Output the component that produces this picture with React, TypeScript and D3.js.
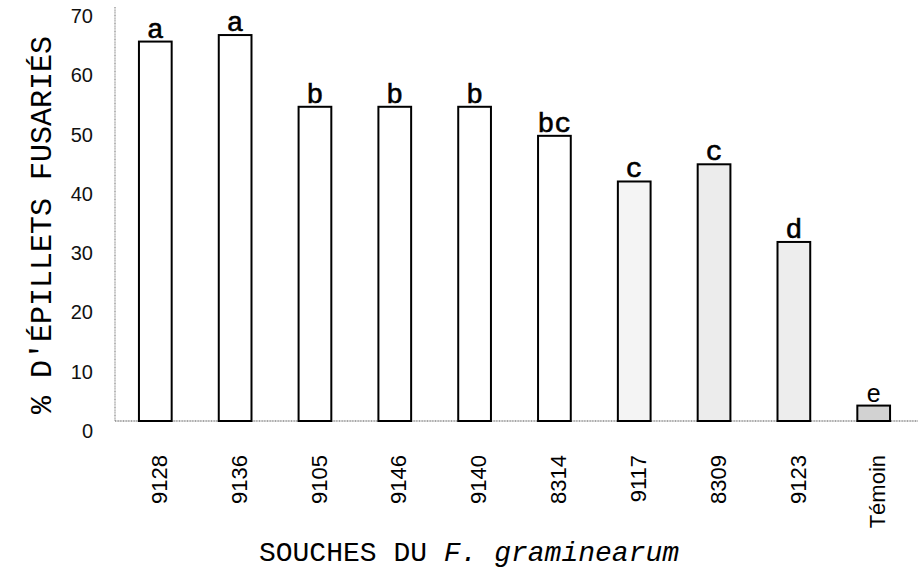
import React from "react";
import * as d3 from "d3";

const souches = ["9128", "9136", "9105", "9146", "9140", "8314", "9117", "8309", "9123", "Témoin"];
const valeurs = [64, 65.1, 53, 53, 53, 48.1, 40.4, 43.3, 30.2, 2.6];
const lettres = ["a", "a", "b", "b", "b", "bc", "c", "c", "d", "e"];
const remplissage = ["#fff", "#fff", "#fff", "#fff", "#fff", "#fff", "#f4f4f4", "#ececec", "#ededed", "#d2d2d2"];
const yTicks = [0, 10, 20, 30, 40, 50, 60, 70];

const W = 918;
const H = 568;
const mono = "'Liberation Mono', 'Courier New', monospace";
const sans = "'Liberation Sans', Arial, sans-serif";

export default function App() {
  const x = d3.scaleBand<string>().domain(souches).range([115, 914]).paddingInner(0.59).paddingOuter(0.3);
  const y = d3.scaleLinear().domain([0, 70]).range([421, 6]);

  return (
    <svg width={W} height={H} style={{ position: "absolute", left: 0, top: 0, background: "#fff" }}>
      {/* axes */}
      <line x1={115} x2={115} y1={7} y2={y(0)} stroke="#888" strokeWidth={1.2} strokeDasharray="1 0.6" />
      <line x1={115} x2={918} y1={y(0)} y2={y(0)} stroke="#888" strokeWidth={1.5} strokeDasharray="1 0.6" />

      {yTicks.map((t) => (
        <text key={t} x={93} y={y(t) + 10} dy="0.35em" textAnchor="end" fontFamily={sans} fontSize={20} fill="#111">
          {t}
        </text>
      ))}

      {souches.map((s, i) => {
        const bx = x(s)!;
        const bw = x.bandwidth();
        const top = y(valeurs[i]);
        const cx = bx + bw / 2;
        const isLast = s === "Témoin";
        return (
          <g key={s}>
            <rect x={bx} y={top} width={bw} height={y(0) - top} fill={remplissage[i]} stroke="#000" strokeWidth={2} />
            <text
              x={cx}
              y={top - 4}
              textAnchor="middle"
              fontFamily={isLast ? sans : mono}
              fontSize={isLast ? 25 : 28}
              stroke="#000"
              strokeWidth={isLast ? 0 : 0.6}
              fill="#000"
            >
              {lettres[i]}
            </text>
            <text
              transform={`translate(${cx + 4},455) rotate(-90)`}
              dy="0.35em"
              textAnchor="end"
              fontFamily={sans}
              fontSize={22}
              fill="#000"
            >
              {s}
            </text>
          </g>
        );
      })}

      <text
        transform="translate(40,225) rotate(-90)"
        dy="0.35em"
        textAnchor="middle"
        fontFamily={mono}
        fontSize={30}
        fill="#000"
      >
        % D'ÉPILLETS FUSARIÉS
      </text>

      <text x={469} y={551} dy="0.35em" textAnchor="middle" fontFamily={mono} fontSize={28} fill="#000">
        SOUCHES DU <tspan fontStyle="italic">F. graminearum</tspan>
      </text>
    </svg>
  );
}
